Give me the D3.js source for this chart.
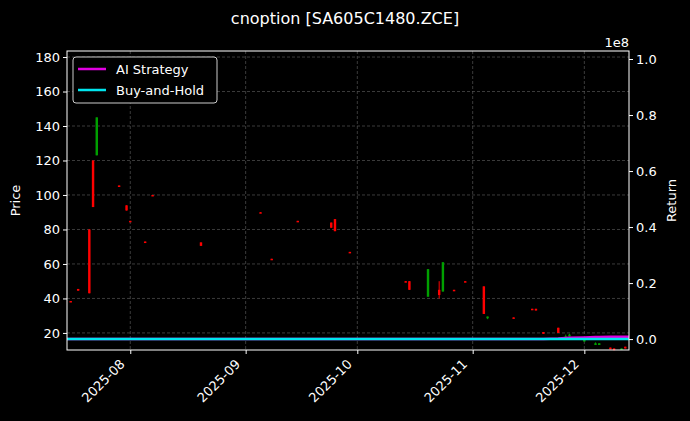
<!DOCTYPE html>
<html><head><meta charset="utf-8">
<script src="https://cdn.jsdelivr.net/npm/d3@7"></script>
<style>body{margin:0;background:#000}svg{font-family:"DejaVu Sans",sans-serif}</style>
</head><body><svg id="c" width="690" height="421"></svg>
<script>
const dates=["2025-07-16","2025-07-18","2025-07-21","2025-07-22","2025-07-23","2025-07-29","2025-07-31","2025-08-01","2025-08-05","2025-08-07","2025-08-20","2025-09-05","2025-09-08","2025-09-15","2025-09-24","2025-09-25","2025-09-29","2025-10-14","2025-10-15","2025-10-20","2025-10-23","2025-10-24","2025-10-27","2025-10-30","2025-11-04","2025-11-05","2025-11-12","2025-11-17","2025-11-18","2025-11-20","2025-11-24","2025-11-26","2025-11-27","2025-12-01","2025-12-04","2025-12-05","2025-12-08","2025-12-09","2025-12-11","2025-12-12"];
const open =[38.5,45.5,80,120,123,105.5,94,85,73,100,72.5,90,63,85,84,86,67,50,50,41,45,44,45,50,47,28.5,29,34,34,20.5,23,17,18,15,13,13,11.5,11,10.5,12];
const close=[38,44.5,43,93,145,105,91,84.5,72.5,99.5,70.5,89.5,62.5,84.5,81,79,66.5,49.5,45,57,42,61,44.5,49.5,31,29.5,28.5,33.5,33,19.5,20,18,19,16,14,14,10.5,10,11,11];
const high =[38.5,45.5,80,120,145,105.5,94,85,73,100,72.5,90,63,85,84,86,67,50,50,57,50,61,45,50,47,29.5,29,34,34,20.5,23,19,19.5,16.5,14.5,14,11.5,11,11,12];
const low  =[38,44.5,43,93,123,105,91,84.5,72.5,99.5,70.5,89.5,62.5,84.5,81,79,66.5,49.5,45,41,40,44,44.5,49.5,31,28,28.5,33.5,33,19.5,20,17,18,15,13,13,10.5,10,10.5,11];
const aiRet=[0,0,0,0,0,0,0,0,0,0,0,0,0,0,0,0,0,0,0,0,0,0,0,0,0,0,0,0,0,0,0.002,0.004,0.005,0.006,0.007,0.007,0.008,0.008,0.008,0.008];
const bhRet=dates.map(()=>0);
const priceTicks=[20,40,60,80,100,120,140,160,180];
const retTicks=[0,0.2,0.4,0.6,0.8,1.0];

const svg=d3.select("#c"), L=67,R=629,T=51,B=350;
svg.append("rect").attr("width",690).attr("height",421).attr("fill","#000");
const p=d3.timeParse("%Y-%m-%d");
const x=d3.scaleTime().domain([p("2025-07-15"),p("2025-12-13")]).range([L,R]);
const y=d3.scaleLinear().domain([10.1,183.5]).range([B,T]);
const y2=d3.scaleLinear().domain([-0.039,1.0286]).range([B,T]);
const xt=[p("2025-08-01"),p("2025-09-01"),p("2025-10-01"),p("2025-11-01"),p("2025-12-01")];
const g=svg.append("g");
xt.forEach(d=>g.append("line").attr("x1",x(d)).attr("x2",x(d)).attr("y1",T).attr("y2",B).attr("stroke","#555").attr("stroke-dasharray","3,2").attr("stroke-width",0.7));
priceTicks.forEach(d=>g.append("line").attr("x1",L).attr("x2",R).attr("y1",y(d)).attr("y2",y(d)).attr("stroke","#555").attr("stroke-dasharray","3,2").attr("stroke-width",0.7));
const day=x(p("2025-08-02"))-x(p("2025-08-01")), w=day*0.65;
dates.forEach((d,i)=>{
  const c=close[i]>=open[i]?"#00a000":"#ff0000", cx=x(p(d));
  g.append("line").attr("x1",cx).attr("x2",cx).attr("y1",y(high[i])).attr("y2",y(low[i])).attr("stroke",c).attr("stroke-width",1);
  const t=y(Math.max(open[i],close[i])), b=y(Math.min(open[i],close[i]));
  g.append("rect").attr("x",cx-w/2).attr("width",w).attr("y",t).attr("height",Math.max(b-t,1.5)).attr("fill",c);
});
const ext=a=>[a[0],...a,a[a.length-1]];
const lx=(arr)=>{const xs=[L,...dates.map(d=>x(p(d))),R];return d3.line().x((d,i)=>xs[i]).y(d=>y2(d))(ext(arr));};
svg.append("path").attr("d",lx(aiRet)).attr("fill","none").attr("stroke","#e000e0").attr("stroke-width",2.5);
svg.append("path").attr("d",lx(bhRet)).attr("fill","none").attr("stroke","#00e5ee").attr("stroke-width",2.5);
svg.append("rect").attr("x",L).attr("y",T).attr("width",R-L).attr("height",B-T).attr("fill","none").attr("stroke","#fff").attr("stroke-width",1);
const fs="13px";
const ay=svg.append("g").attr("transform",`translate(${L},0)`).call(d3.axisLeft(y).tickValues(priceTicks).tickSize(4).tickPadding(3));
const ay2=svg.append("g").attr("transform",`translate(${R},0)`).call(d3.axisRight(y2).tickValues(retTicks).tickFormat(d3.format(".1f")).tickSize(4).tickPadding(3));
const ax=svg.append("g").attr("transform",`translate(0,${B})`).call(d3.axisBottom(x).tickValues(xt).tickFormat(d3.timeFormat("%Y-%m")).tickSize(4));
[ay,ay2,ax].forEach(a=>{a.select(".domain").remove();a.selectAll("line").attr("stroke","#fff");a.selectAll("text").attr("fill","#fff").style("font-size",fs).style("font-family","DejaVu Sans");});
ax.selectAll("text").attr("text-anchor","end").attr("dx",0).attr("dy",0).attr("transform","translate(-10,10) rotate(-45)");
svg.append("text").attr("x",345).attr("y",24).attr("text-anchor","middle").attr("fill","#fff").style("font-size","16px").text("cnoption [SA605C1480.ZCE]");
svg.append("text").attr("x",20).attr("y",(T+B)/2).attr("transform",`rotate(-90,20,${(T+B)/2})`).attr("text-anchor","middle").attr("fill","#fff").style("font-size",fs).text("Price");
svg.append("text").attr("x",676).attr("y",(T+B)/2).attr("transform",`rotate(-90,676,${(T+B)/2})`).attr("text-anchor","middle").attr("fill","#fff").style("font-size",fs).text("Return");
svg.append("text").attr("x",629).attr("y",47).attr("text-anchor","end").attr("fill","#fff").style("font-size",fs).text("1e8");
const lg=svg.append("g").attr("transform","translate(73,57)");
lg.append("rect").attr("width",144).attr("height",46).attr("rx",3).attr("fill","#000").attr("stroke","#ccc");
[["AI Strategy","#e000e0"],["Buy-and-Hold","#00e5ee"]].forEach((s,i)=>{
  lg.append("line").attr("x1",5).attr("x2",33).attr("y1",12+i*21).attr("y2",12+i*21).attr("stroke",s[1]).attr("stroke-width",2.5);
  lg.append("text").attr("x",43).attr("y",17+i*21).attr("fill","#fff").style("font-size",fs).text(s[0]);
});
</script></body></html>
